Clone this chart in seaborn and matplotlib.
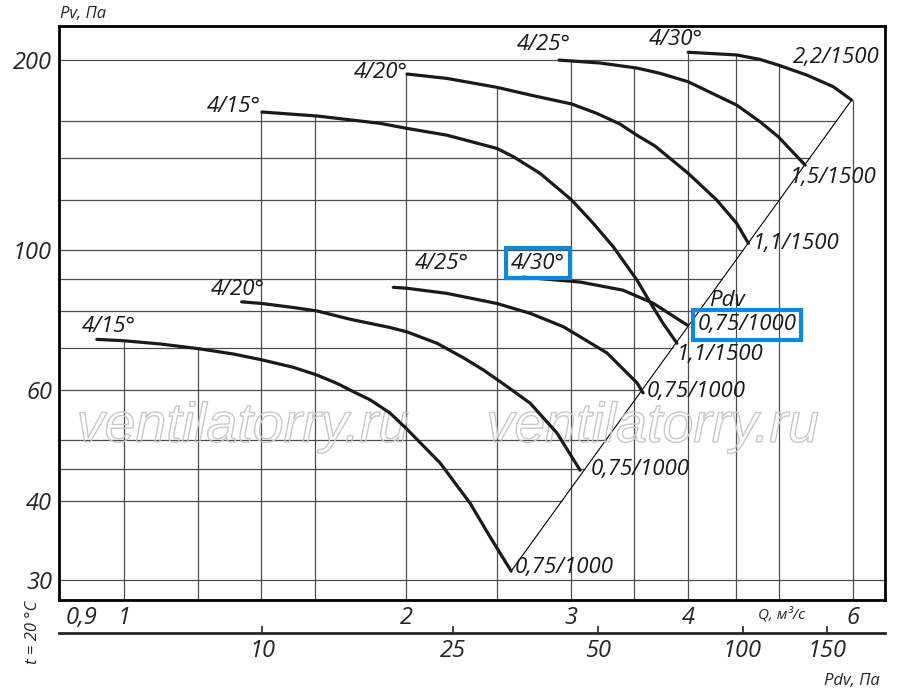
import numpy as np
import pandas as pd
import matplotlib
matplotlib.use('Agg')
import matplotlib.pyplot as plt
import matplotlib.patheffects as pe
from matplotlib.ticker import NullLocator
import seaborn as sns

# характеристики вентилятора: Q, м3/с и Pv, Па
# 1000 об/мин
q_15_low = [0.935, 0.998, 1.093, 1.2, 1.308, 1.403, 1.516, 1.606, 1.687, 1.757, 1.831,
            1.922, 2.005, 2.174, 2.341, 2.459, 2.589]
p_15_low = [72.2, 71.85, 71.0, 69.8, 68.45, 67.0, 65.2, 63.4, 61.5, 59.65, 57.9,
            55.2, 52.0, 46.0, 39.7, 35.1, 31.0]
q_20_low = [1.335, 1.403, 1.516, 1.606, 1.743, 1.922, 2.004, 2.157, 2.303, 2.417,
            2.551, 2.713, 2.898, 3.067]
p_20_low = [82.8, 82.3, 81.1, 80.1, 77.7, 75.4, 74.2, 71.2, 67.5, 64.6,
            61.1, 57.2, 51.3, 44.8]
q_25_low = [1.938, 2.004, 2.21, 2.5, 2.713, 2.944, 3.067, 3.277, 3.528, 3.581]
p_25_low = [87.3, 87.0, 85.4, 82.3, 79.4, 75.6, 72.9, 68.7, 61.6, 59.4]
q_30_low = [2.666, 3.067, 3.408, 3.67, 3.989]
p_30_low = [90.6, 89.0, 86.4, 82.4, 76.1]
# 1500 об/мин
q_15_high = [1.403, 1.607, 1.876, 2.004, 2.21, 2.5, 2.603, 2.78, 3.005, 3.169, 3.328,
             3.528, 3.642, 3.76, 3.892]
p_15_high = [165.5, 163.1, 158.8, 155.9, 152.1, 144.9, 140.6, 132.3, 120.0, 110.2, 101.2,
             89.6, 82.7, 76.6, 71.2]
q_20_high = [2.004, 2.21, 2.5, 2.713, 3.005, 3.195, 3.383, 3.526, 3.687, 4.001,
             4.292, 4.508, 4.639]
p_20_high = [190.1, 187.1, 181.1, 176.1, 170.4, 164.7, 158.4, 152.1, 146.2, 132.3,
             120.0, 110.2, 102.5]
q_25_high = [2.913, 3.221, 3.526, 3.733, 4.001, 4.508, 4.774, 4.993, 5.332]
p_25_high = [200.0, 197.9, 194.3, 190.6, 184.8, 169.7, 159.7, 151.2, 136.4]
q_30_high = [4.001, 4.508, 4.774, 4.993, 5.354, 5.715, 5.979]
p_30_high = [205.8, 203.8, 200.5, 196.4, 189.4, 181.5, 172.9]

# линия динамического давления Pdv
pdv_q = [2.589, 5.979]
pdv_p = [31.0, 172.9]

# сетка и подписи осей
grid_q = [1, 1.2, 1.4, 1.6, 2, 2.5, 3, 3.5, 4, 4.5, 5, 6]
grid_p = [30, 40, 45, 50, 60, 70, 80, 90, 100, 120, 140, 160, 200]
q_ticks = [0.9, 1, 2, 3, 4, 6]
q_labels = ['0,9', '1', '2', '3', '4', '6']
p_ticks = [30, 40, 60, 100, 200]
p_labels = ['30', '40', '60', '100', '200']
pdv_ticks = [10, 25, 50, 100, 150]
pdv_labels = ['10', '25', '50', '100', '150']

curves = {
    '4/15 low': (q_15_low, p_15_low), '4/20 low': (q_20_low, p_20_low),
    '4/25 low': (q_25_low, p_25_low), '4/30 low': (q_30_low, p_30_low),
    '4/15 high': (q_15_high, p_15_high), '4/20 high': (q_20_high, p_20_high),
    '4/25 high': (q_25_high, p_25_high), '4/30 high': (q_30_high, p_30_high),
}
df = pd.concat([pd.DataFrame({'Q': q, 'Pv': p, 'curve': name})
                for name, (q, p) in curves.items()], ignore_index=True)

sns.set_style('white')
plt.rcParams['font.family'] = ['Open Sans', 'DejaVu Sans']
plt.rcParams['font.style'] = 'italic'

fig = plt.figure(figsize=(9, 6.94), dpi=100)
ax = fig.add_axes([59 / 900, 1 - 600 / 694, 826 / 900, 574 / 694])
ax.set_xscale('log')
ax.set_yscale('log')
xmin, xmax = 0.852, 6.49
ymin, ymax = 27.9, 226.5

# верхняя граница поля (для вертикальных линий сетки)
def envelope(q):
    top = ymin
    for cq, cp in curves.values():
        if cq[0] * 0.99 <= q <= cq[-1] * 1.01:
            v = 10 ** np.interp(np.log10(q), np.log10(cq), np.log10(cp))
            top = max(top, v)
    return top

grid_col = '#4d4d4d'
for q in grid_q:
    ax.vlines(q, ymin, envelope(q), color=grid_col, lw=0.9, zorder=1)
for p in grid_p:
    if p < pdv_p[0]:
        right = xmax
    elif p <= pdv_p[1]:
        right = 10 ** np.interp(np.log10(p), np.log10(pdv_p), np.log10(pdv_q))
    else:
        right = np.interp(p, p_30_high[::-1], q_30_high[::-1])
    ax.hlines(p, xmin, right, color=grid_col, lw=0.9, zorder=1)

ax.plot(pdv_q, pdv_p, color='black', lw=0.8, zorder=2)

sns.lineplot(data=df, x='Q', y='Pv', units='curve', estimator=None, sort=False,
             color='#1a1a1a', linewidth=2.3, legend=False, ax=ax, zorder=3)

ax.set_xlim(xmin, xmax)
ax.set_ylim(ymin, ymax)
ax.set_xlabel('')
ax.set_ylabel('')
ax.set_xticks(q_ticks, q_labels)
ax.set_yticks(p_ticks, p_labels)
ax.xaxis.set_minor_locator(NullLocator())
ax.yaxis.set_minor_locator(NullLocator())
ax.tick_params(axis='both', length=0, labelsize=17)
ax.tick_params(axis='x', pad=4)
ax.tick_params(axis='y', pad=5)
for s in ax.spines.values():
    s.set_visible(True)
    s.set_color('black')
    s.set_linewidth(2)

# шкала Pdv снизу
c_pdv, n_pdv = 5.16, 1.95
sec = ax.secondary_xaxis(-0.0575, functions=(lambda q: c_pdv * np.abs(q) ** n_pdv,
                                             lambda p: (np.abs(p) / c_pdv) ** (1 / n_pdv)))
sec.set_xticks(pdv_ticks, pdv_labels)
sec.xaxis.set_minor_locator(NullLocator())
sec.tick_params(axis='x', direction='in', length=5, width=1.2, labelsize=17, pad=4)
sec.spines['bottom'].set_linewidth(2)

# подписи кривых
lab = dict(fontsize=16, ha='center', va='center', zorder=5, color='#1a1a1a')
texts = [
    ('4/15°', 1.31, 169.1), ('4/20°', 1.881, 191.4), ('4/25°', 2.807, 212.1),
    ('4/30°', 3.883, 215.9), ('2,2/1500', 5.753, 202.2), ('1,5/1500', 5.711, 130.5),
    ('1,1/1500', 5.215, 102.6), ('1,1/1500', 4.326, 68.4), ('Pdv', 4.401, 83.3),
    ('0,75/1000', 4.077, 59.6), ('0,75/1000', 3.554, 44.97), ('0,75/1000', 2.948, 31.45),
    ('4/15°', 0.964, 75.8), ('4/20°', 1.323, 86.75), ('4/25°', 2.185, 95.4),
]
for t, x, y in texts:
    ax.text(x, y, t, **lab)
box = dict(boxstyle='square,pad=0.22', fc='none', ec='#0a8ad8', lw=3)
ax.text(2.766, 95.4, '4/30°', bbox=box, **lab)
ax.text(4.623, 76.1, '0,75/1000', bbox=box, **lab)

# водяной знак
for xw in (0.2225, 0.7185):
    ax.text(xw, 0.30, 'ventilatorry.ru', transform=ax.transAxes, fontsize=40,
            family=['Liberation Sans', 'DejaVu Sans'], ha='center', va='center',
            color=(1, 1, 1, 0), zorder=2.5,
            path_effects=[pe.Stroke(linewidth=1.0, foreground='#c8c8c8')])

fig.text(782 / 900, 1 - 615 / 694, 'Q, м³/с', fontsize=11, ha='center', va='center')
fig.text(60 / 900, 1 - 14 / 694, 'Pv, Па', fontsize=12, ha='left', va='center')
fig.text(880 / 900, 1 - 681 / 694, 'Pdv, Па', fontsize=12, ha='right', va='center')
fig.text(33 / 900, 1 - 632 / 694, 't = 20 °C', fontsize=12, rotation=90, ha='center', va='center')

fig.savefig('out.png', dpi=100)
